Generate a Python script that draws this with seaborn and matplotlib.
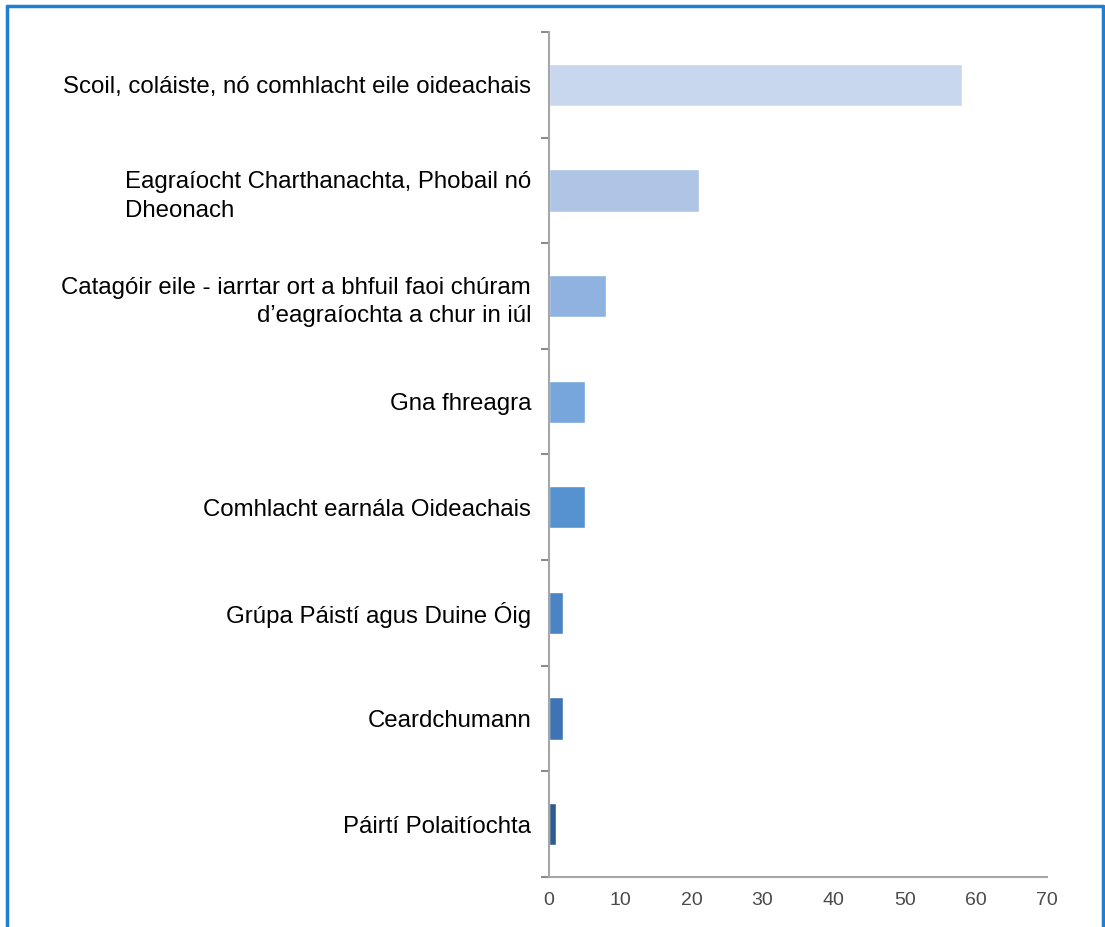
import matplotlib
matplotlib.use("Agg")
import matplotlib.pyplot as plt
import seaborn as sns
import pandas as pd
from matplotlib.ticker import FixedLocator
from matplotlib.lines import Line2D

catagoiri = [
    "Scoil, coláiste, nó comhlacht eile oideachais",
    "Eagraíocht Charthanachta, Phobail nó\nDheonach",
    "Catagóir eile - iarrtar ort a bhfuil faoi chúram\nd\u2019eagraíochta a chur in iúl",
    "Gna fhreagra",
    "Comhlacht earnála Oideachais",
    "Grúpa Páistí agus Duine Óig",
    "Ceardchumann",
    "Páirtí Polaitíochta",
]
luachanna = [58, 21, 8, 5, 5, 2, 2, 1]
dathanna = ["#c8d7ee", "#aec5e6", "#8fb2e0", "#76a6dc",
            "#5592cf", "#4a84c4", "#3f74b4", "#2e5c8e"]
x_ticks = [0, 10, 20, 30, 40, 50, 60, 70]

df = pd.DataFrame({"catagoir": catagoiri, "luach": luachanna})

sns.set_style("white")
plt.rcParams['font.family'] = ['Liberation Sans', 'DejaVu Sans']

fig = plt.figure(figsize=(11.05, 9.27), dpi=100)
ax = fig.add_axes([0.497, 0.054, 0.4505, 0.9115])

sns.barplot(data=df, x="luach", y="catagoir", hue="catagoir", palette=dathanna,
            width=0.4, legend=False, ax=ax, saturation=1)

ax.set_xlim(0, 70)
ax.set_ylim(len(catagoiri) - 0.5, -0.5)
ax.set_xticks(x_ticks)
ax.set_xlabel("")
ax.set_ylabel("")

sns.despine(ax=ax, top=True, right=True)
for s in ["left", "bottom"]:
    ax.spines[s].set_color("#a6a6a6")
    ax.spines[s].set_linewidth(1.5)

# tick marks between categories, none on the labels
ax.yaxis.set_minor_locator(FixedLocator([i - 0.5 for i in range(len(catagoiri) + 1)]))
ax.tick_params(axis="y", which="major", length=0, labelsize=17.3, pad=13, labelcolor="black")
ax.tick_params(axis="y", which="minor", length=6, width=1.5, color="#8c8c8c", direction="out", left=True)
ax.tick_params(axis="x", which="major", length=6, width=1.5, color="#a6a6a6", direction="inout",
               labelsize=14, labelcolor="#4a4a4a", pad=8)

for lbl in ax.get_yticklabels():
    lbl.set_linespacing(1.4)
# the second label is left aligned within itself in the original
ax.get_yticklabels()[1].set_multialignment("left")

# blue frame around the picture
for xy in [([0.006, 0.006], [0.0, 0.994]), ([0.006, 0.998], [0.994, 0.994]), ([0.998, 0.998], [0.0, 0.994])]:
    fig.add_artist(Line2D(xy[0], xy[1], transform=fig.transFigure, color="#1f7fd0", linewidth=2.5))

fig.savefig("out.png", dpi=100)
